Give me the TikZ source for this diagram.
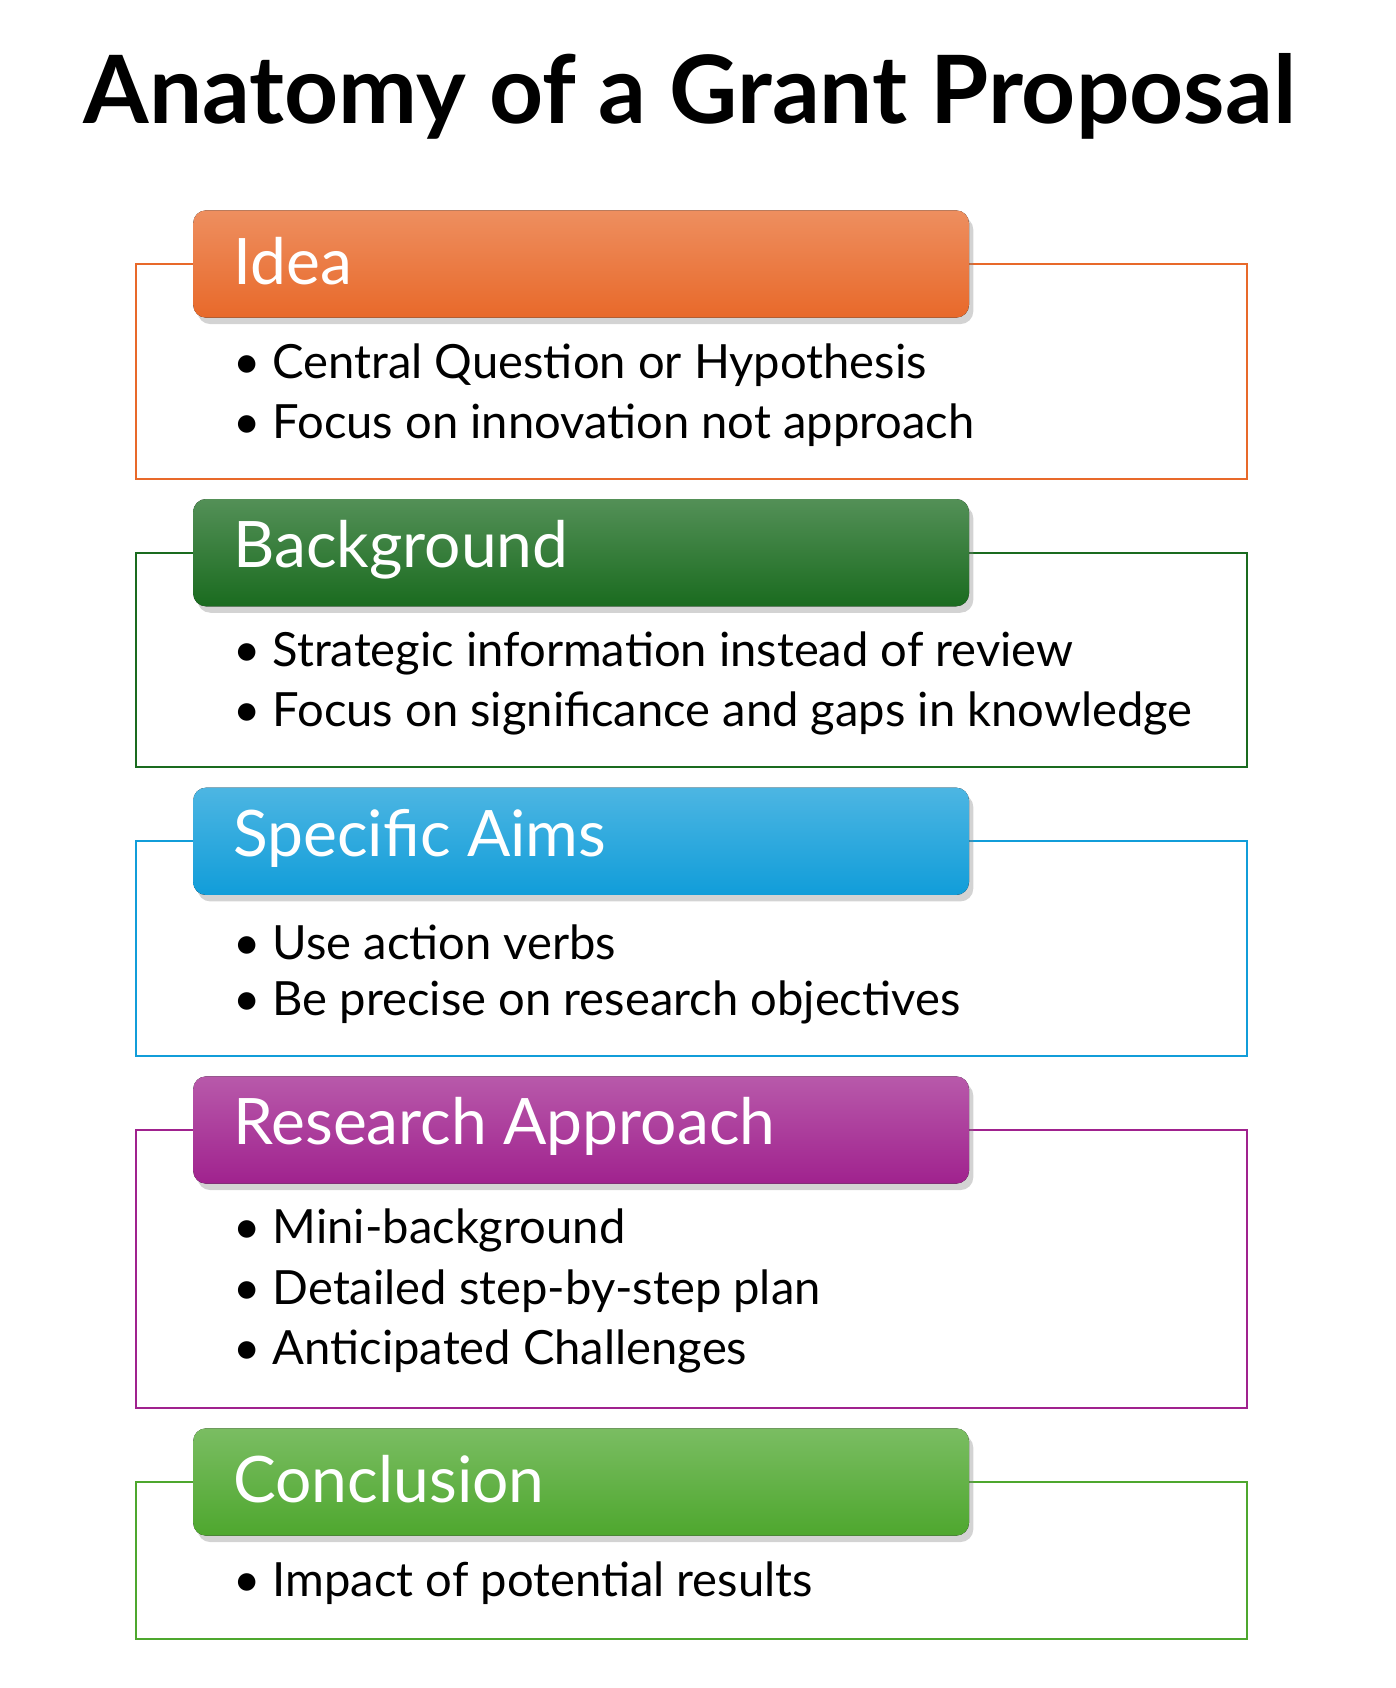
\documentclass[tikz,border=0pt]{standalone}
\usepackage{fontspec}
\setmainfont{Lato}
\usetikzlibrary{shadows}
\definecolor{cA}{HTML}{E8692A}
\definecolor{cB}{HTML}{1A6B1F}
\definecolor{cC}{HTML}{119DD9}
\definecolor{cD}{HTML}{A0228E}
\definecolor{cE}{HTML}{4EA72E}
\tikzset{
 frame/.style={draw=#1, line width=0.2mm},
 head/.style={rounded corners=1.2mm, top color=#1!75!white, bottom color=#1, draw=none, drop shadow={shadow xshift=0.4mm, shadow yshift=-0.6mm, opacity=0.35}},
 headtxt/.style={anchor=west, text=white, font=\fontsize{17}{20}\selectfont},
 bul/.style={anchor=west, font=\fontsize{12.5}{15}\selectfont, text=black}
}
\newcommand{\sect}[7]{% color, outer top, outer bottom, header top, title, name
 \draw[frame=#1] (1.27,-#2) rectangle (11.62,-#3);
 \fill[head=#1] (1.80,-#4) rectangle (9.03,-#4-1.0);
 \node[headtxt] (#6) at (2.05,-#4-0.47) {#5};
 #7
}
\begin{document}
\begin{tikzpicture}
\useasboundingbox (0,0) rectangle (13,-15.73);
\node[font=\bfseries\fontsize{25}{30}\selectfont] (title) at (6.43,-0.9) {Anatomy of a Grant Proposal};
\sect{cA}{2.46}{4.46}{1.96}{Idea}{h1}{
 \node[bul] (b11) at (2.05,-3.40) {• Central Question or Hypothesis};
 \node[bul] (b12) at (2.05,-3.96) {• Focus on innovation not approach};}
\sect{cB}{5.15}{7.15}{4.65}{Background}{h2}{
 \node[bul] (b21) at (2.05,-6.09) {• Strategic information instead of review};
 \node[bul] (b22) at (2.05,-6.65) {• Focus on significance and gaps in knowledge};}
\sect{cC}{7.84}{9.84}{7.34}{Specific Aims}{h3}{
 \node[bul] (b31) at (2.05,-8.78) {• Use action verbs};
 \node[bul] (b32) at (2.05,-9.34) {• Be precise on research objectives};}
\sect{cD}{10.53}{13.12}{10.03}{Research Approach}{h4}{
 \node[bul] (b41) at (2.05,-11.47) {• Mini-background};
 \node[bul] (b42) at (2.05,-12.03) {• Detailed step-by-step plan};
 \node[bul] (b43) at (2.05,-12.59) {• Anticipated Challenges};}
\sect{cE}{13.81}{15.27}{13.31}{Conclusion}{h5}{
 \node[bul] (b51) at (2.05,-14.75) {• Impact of potential results};}
\end{tikzpicture}
\end{document}
